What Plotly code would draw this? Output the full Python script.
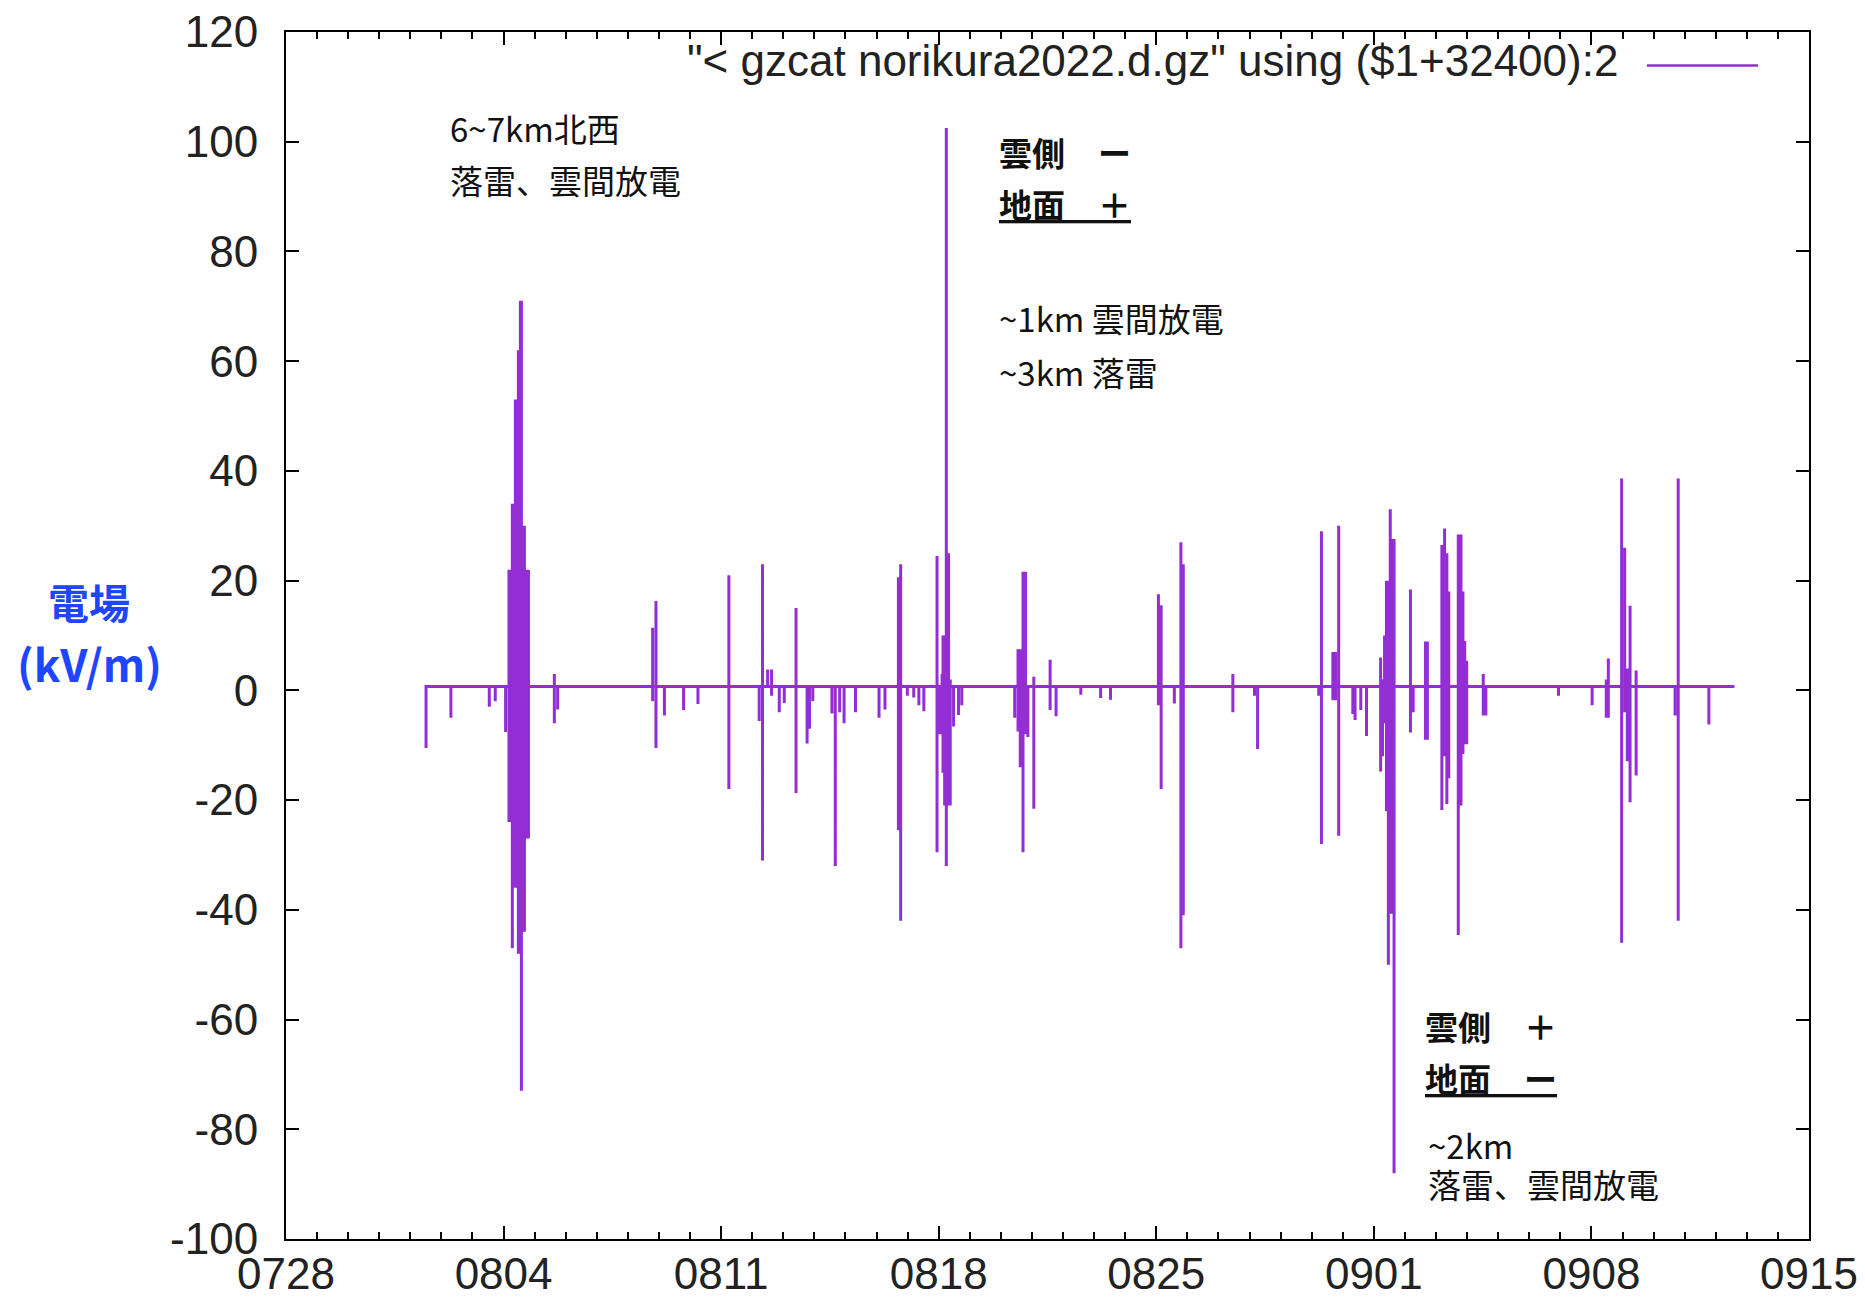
import plotly.graph_objects as go

# ---------------- data ----------------
BASELINE = 0.7          # quiet-time field level, kV/m
END_TIME = "2022-09-12 14:26"

event_times = [
    "2022-08-01 12:08", "2022-08-02 07:20", "2022-08-03 12:59", "2022-08-03 17:34",
    "2022-08-04 01:34",
    "2022-08-04 04:10", "2022-08-04 04:57", "2022-08-04 05:43", "2022-08-04 06:46",
    "2022-08-04 07:32", "2022-08-04 08:19", "2022-08-04 09:06", "2022-08-04 09:52",
    "2022-08-04 10:39", "2022-08-04 11:26", "2022-08-04 12:13", "2022-08-04 12:59",
    "2022-08-04 13:46", "2022-08-04 14:32", "2022-08-04 15:19", "2022-08-04 16:06",
    "2022-08-04 16:52", "2022-08-04 17:39", "2022-08-04 18:26", "2022-08-04 19:13",
    "2022-08-05 15:12", "2022-08-05 17:46",
    "2022-08-08 19:07", "2022-08-08 21:41", "2022-08-09 04:13", "2022-08-09 18:59",
    "2022-08-10 06:06", "2022-08-11 05:58",
    "2022-08-12 05:23", "2022-08-12 07:57", "2022-08-12 11:53", "2022-08-12 14:55",
    "2022-08-12 20:53", "2022-08-13 00:45", "2022-08-13 09:50", "2022-08-13 18:22",
    "2022-08-13 20:12", "2022-08-13 22:46",
    "2022-08-14 13:34", "2022-08-14 16:08", "2022-08-14 19:32", "2022-08-14 22:55",
    "2022-08-15 07:44", "2022-08-16 01:55", "2022-08-16 06:30",
    "2022-08-16 16:53", "2022-08-16 18:37", "2022-08-16 23:46",
    "2022-08-17 04:43", "2022-08-17 08:40", "2022-08-17 12:31", "2022-08-17 22:43",
    "2022-08-18 00:00", "2022-08-18 01:17", "2022-08-18 02:34", "2022-08-18 03:18",
    "2022-08-18 04:35", "2022-08-18 05:52", "2022-08-18 06:36", "2022-08-18 07:37",
    "2022-08-18 08:54", "2022-08-18 11:28", "2022-08-18 15:20", "2022-08-18 17:49",
    "2022-08-20 10:40", "2022-08-20 13:14", "2022-08-20 14:58", "2022-08-20 17:05",
    "2022-08-20 19:06", "2022-08-20 20:51", "2022-08-21 01:26", "2022-08-21 14:01",
    "2022-08-21 18:37", "2022-08-22 13:42", "2022-08-23 05:02", "2022-08-23 12:39",
    "2022-08-25 01:39", "2022-08-25 03:46", "2022-08-25 13:57", "2022-08-25 19:00",
    "2022-08-25 20:50", "2022-08-27 11:07",
    "2022-08-28 03:50", "2022-08-28 06:13",
    "2022-08-30 05:25", "2022-08-30 07:31", "2022-08-30 16:20", "2022-08-30 18:26",
    "2022-08-30 20:50",
    "2022-08-31 07:45", "2022-08-31 09:30", "2022-08-31 13:54", "2022-08-31 18:19",
    "2022-09-01 05:14", "2022-09-01 06:42", "2022-09-01 08:16", "2022-09-01 09:44",
    "2022-09-01 11:12", "2022-09-01 12:40", "2022-09-01 14:08", "2022-09-01 15:36",
    "2022-09-02 04:16", "2022-09-02 06:23", "2022-09-02 15:50", "2022-09-02 17:19",
    "2022-09-03 04:31", "2022-09-03 06:37", "2022-09-03 08:22", "2022-09-03 09:50",
    "2022-09-03 17:11", "2022-09-03 19:17", "2022-09-03 20:46", "2022-09-03 22:10",
    "2022-09-03 23:41",
    "2022-09-04 12:28", "2022-09-04 14:29",
    "2022-09-06 22:34",
    "2022-09-08 00:33", "2022-09-08 11:28", "2022-09-08 13:02", "2022-09-08 23:19",
    "2022-09-09 01:42", "2022-09-09 03:43", "2022-09-09 05:50", "2022-09-09 10:31",
    "2022-09-10 16:36", "2022-09-10 19:00", "2022-09-11 18:41",
]

# peak positive excursion (None = no upward spike)
event_up = [
    None, None, None, None,
    1,
    22, 22, 22, 34,
    34, 34, 53, 53,
    53, 62, 62, 71,
    71, 30, 30, 30,
    22, 22, 22, 22,
    3, None,
    11.4, 16.3, None, 0.5,
    None, 21,
    None, 23, 3.8, 3.8,
    None, None, 15, None,
    None, None,
    None, None, None, None,
    None, None, None,
    20.6, 23, None,
    None, None, None, 24.5,
    None, None, 3, 10,
    10, 102.5, 25, 25,
    2, None, None, None,
    None, 7.5, 7.5, 21.6,
    21.6, None, 2.5, 5.6,
    None, None, None, None,
    17.5, 15.5, None, 27,
    23, 3,
    None, None,
    None, 29, 7, 7,
    30,
    None, None, None, None,
    6, 2, 10, 20,
    20, 33, 27.6, 27.6,
    18.4, None, 8.9, 8.9,
    26.5, 29.5, 25, 18,
    28.4, 28.4, 18, 9,
    5.4,
    3, None,
    None,
    None, 2, 5.8, 38.6,
    26, 4, 15.4, 3.6,
    None, 38.6, None,
]

# peak negative excursion (None = no downward spike)
event_down = [
    -10.5, -5, -3, -2,
    -7.6,
    -24, -24, -24, -47,
    -36, -36, -36, -36,
    -36, -48, -48, -36,
    -73, -44, -44, -44,
    -27, -27, -27, -27,
    -6, -3.5,
    -2, -10.5, -4.6, -3.6,
    -2.5, -18,
    -5.6, -31, None, -1,
    -4, -2.3, -18.7, -9.7,
    -7, -2,
    -4.2, -32, -4, -6,
    -4, -5, -3.5,
    -25.5, -42, -1,
    -1.3, -2.7, -3.8, -29.5,
    -8, -8, -8, -15,
    -21, -32, -21, -21,
    -21, -6.6, -4.5, -2.7,
    -5, -7.5, -14, -29.5,
    -8, -8.5, -21.6, -3.6,
    -4.7, -0.8, -1.4, -1.7,
    -2.7, -18, -2.4, -47,
    -41, -4,
    -1, -10.7,
    -1, -28, -1.8, -1.8,
    -26.5,
    -4.3, -5.4, -3.6, -8.3,
    -14.8, -12, -6, -22,
    -50, -40.7, -40.7, -88,
    -7.7, -4, -9, -9,
    -21.8, -12, -20.7, -16,
    -44.6, -21, -11.6, -9.8,
    -9.8,
    -4.6, -4.6,
    -1,
    -2.7, -5, -5, -46,
    -4, -12.9, -20.4, -15.5,
    -4.6, -42, -6.2,
]

y_tick_values = [-100, -80, -60, -40, -20, 0, 20, 40, 60, 80, 100, 120]
y_tick_labels = ["-100", "-80", "-60", "-40", "-20", "0", "20", "40", "60", "80", "100", "120"]

LEGEND_TEXT = '"&lt; gzcat norikura2022.d.gz" using ($1+32400):2'

# ---------------- build the trace ----------------
xs, ys = [], []
for t, up, dn in zip(event_times, event_up, event_down):
    xs += [t, t, t, t]
    ys += [BASELINE,
           up if up is not None else BASELINE,
           dn if dn is not None else BASELINE,
           BASELINE]
xs.append(END_TIME)
ys.append(BASELINE)

LINE_COLOR = "#922ed4"
TICK_FONT = dict(family="Liberation Sans, Arial, sans-serif", size=44, color="#222222")
JP = "Noto Sans CJK JP"

fig = go.Figure()
fig.add_trace(go.Scatter(x=xs, y=ys, mode="lines",
                         line=dict(color=LINE_COLOR, width=3),
                         showlegend=False, hoverinfo="skip"))

W, H = 1865, 1298
ML, MR, MT, MB = 286, 56, 32, 59

fig.update_layout(
    width=W, height=H,
    margin=dict(l=ML, r=MR, t=MT, b=MB, pad=0),
    paper_bgcolor="white", plot_bgcolor="white",
    template="none",
    showlegend=False,
)

fig.update_xaxes(
    type="date",
    range=["2022-07-28", "2022-09-15"],
    tick0="2022-07-28", dtick=7 * 86400000,
    tickformat="%m%d",
    ticks="inside", ticklen=13, tickwidth=1.5, tickcolor="black",
    minor=dict(ticks="inside", dtick=86400000, tick0="2022-07-28",
               ticklen=7, tickwidth=1.5, tickcolor="black", showgrid=False),
    showline=True, linecolor="black", linewidth=2, mirror="ticks",
    showgrid=False, zeroline=False,
    tickfont=TICK_FONT, automargin=False,
    ticklabelstandoff=-5,
)
fig.update_yaxes(
    range=[-100, 120],
    tickmode="array", tickvals=y_tick_values, ticktext=y_tick_labels,
    ticks="inside", ticklen=13, tickwidth=1.5, tickcolor="black",
    showline=True, linecolor="black", linewidth=2, mirror="ticks",
    showgrid=False, zeroline=False,
    tickfont=TICK_FONT, automargin=False,
    ticklabelstandoff=17,
)

# legend (gnuplot style: text then line sample)
fig.add_annotation(xref="paper", yref="paper", x=0.8759, y=0.9768,
                   xanchor="right", yanchor="middle", showarrow=False,
                   text=LEGEND_TEXT, font=TICK_FONT)
fig.add_shape(type="line", xref="paper", yref="paper",
              x0=0.8936, x1=0.9665, y0=0.9723, y1=0.9723,
              line=dict(color=LINE_COLOR, width=2.5))

# y-axis title
YL_COLOR = "#1e46ff"
fig.add_annotation(xref="paper", yref="paper", x=-0.1293, y=0.5286,
                   xanchor="center", yanchor="middle", showarrow=False,
                   text="<b>電場</b>", font=dict(family=JP, size=41, color=YL_COLOR))
fig.add_annotation(xref="paper", yref="paper", x=-0.1293, y=0.4772,
                   xanchor="center", yanchor="middle", showarrow=False,
                   text="<b>(kV/m)</b>", font=dict(family=JP, size=44, color=YL_COLOR))

# in-plot notes
NOTE_FONT = dict(family=JP, size=33, color="#111111")
notes = [
    ("2022-08-02 04:51", 102.5, "6~7km北西"),
    ("2022-08-02 04:51", 93.0, "落雷、雲間放電"),
    ("2022-08-19 20:58", 98.2, "<b>雲側　ー</b>"),
    ("2022-08-19 20:58", 88.6, "<b><u>地面　＋</u></b>"),
    ("2022-08-19 20:58", 67.8, "~1km 雲間放電"),
    ("2022-08-19 20:58", 58.1, "~3km 落雷"),
    ("2022-09-02 13:38", -61.1, "<b>雲側　＋</b>"),
    ("2022-09-02 13:38", -70.6, "<b><u>地面　ー</u></b>"),
    ("2022-09-02 16:24", -82.8, "~2km"),
    ("2022-09-02 16:24", -90.0, "落雷、雲間放電"),
]
for x, y, txt in notes:
    fig.add_annotation(x=x, y=y, xref="x", yref="y", xanchor="left", yanchor="middle",
                       showarrow=False, text=txt, font=NOTE_FONT)

fig.write_html("out.html")
